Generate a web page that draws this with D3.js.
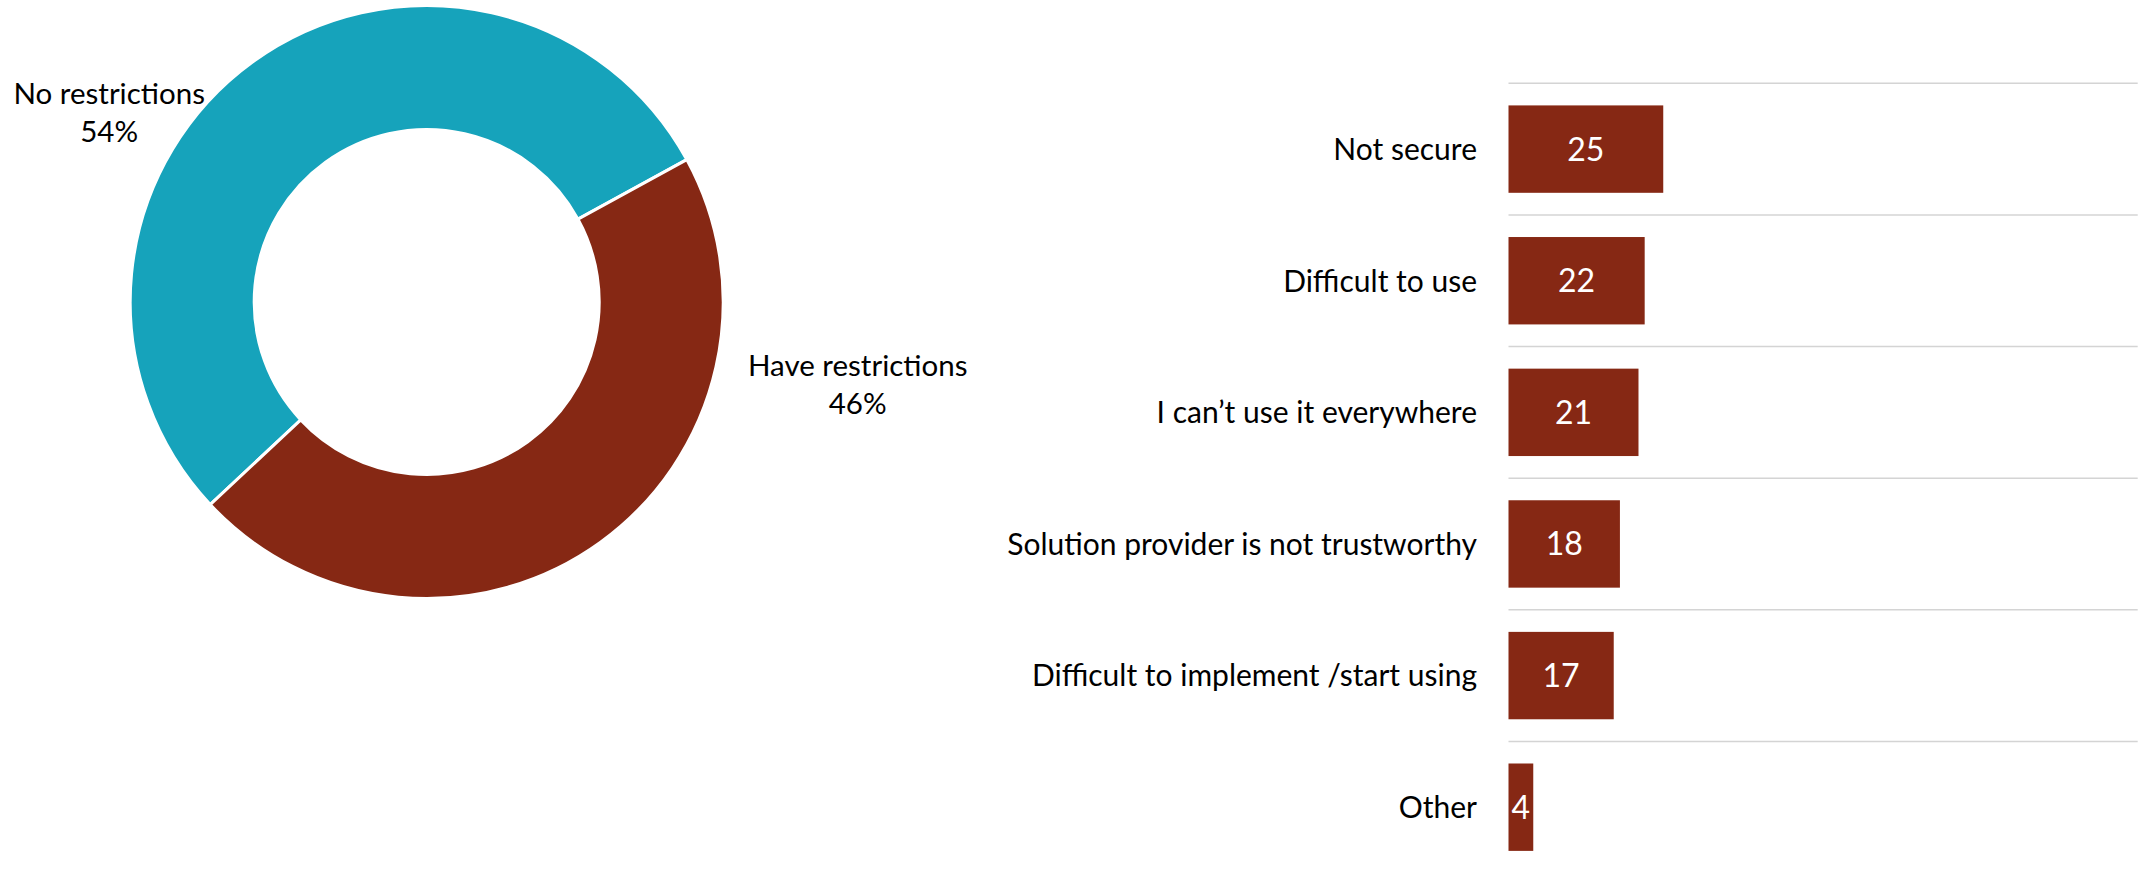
<!DOCTYPE html>
<html><head><meta charset="utf-8">
<script src="https://cdn.jsdelivr.net/npm/d3@7"></script>
<style>body{margin:0;background:#fff} svg{display:block}</style>
</head><body>
<svg id="chart" width="2141" height="872"></svg>
<script>
// ---- data ----
const pieLabels = ["No restrictions", "Have restrictions"];
const pieValues = [54, 46];
const barCategories = ["Not secure", "Difficult to use", "I can\u2019t use it everywhere",
  "Solution provider is not trustworthy", "Difficult to implement /start using", "Other"];
const barValues = [25, 22, 21, 18, 17, 4];

// ---- styles ----
const teal = "#16A3BB", brown = "#862814";
const font = "Lato, 'Open Sans', sans-serif";
const svg = d3.select("#chart");

// ---- donut ----
const cx = 426.7, cy = 302, R = 296.5, r = 172.5;
const start = 226.9 * Math.PI / 180;
const pie = d3.pie().sort(null).startAngle(start).endAngle(start + 2 * Math.PI);
const arc = d3.arc().innerRadius(r).outerRadius(R);
const g = svg.append("g").attr("transform", `translate(${cx},${cy})`);
g.selectAll("path").data(pie(pieValues)).join("path")
  .attr("d", arc)
  .attr("fill", (d, i) => i === 0 ? teal : brown)
  .attr("stroke", "#fff").attr("stroke-width", 3).attr("stroke-linejoin", "miter");

const pieLabelPos = [[-317.5, -198], [431, 74]];
pieLabels.forEach((lab, i) => {
  const t = g.append("text").attr("text-anchor", "middle")
    .attr("font-family", font).attr("font-size", 29.5).attr("fill", "#000")
    .attr("x", pieLabelPos[i][0]).attr("y", pieLabelPos[i][1]);
  t.append("tspan").attr("x", pieLabelPos[i][0]).text(lab);
  t.append("tspan").attr("x", pieLabelPos[i][0]).attr("dy", 38).text(pieValues[i] + "%");
});

// ---- bars ----
const x = d3.scaleLinear().domain([0, 100]).range([1508.5, 2127.5]);
const y = d3.scaleBand().domain(barCategories).range([83.3, 873]).paddingInner(0).paddingOuter(0);
const barH = y.bandwidth() * 0.664;
const gridRight = 2137.7;

svg.append("g").selectAll("line").data(barCategories).join("line")
  .attr("x1", x(0)).attr("x2", gridRight)
  .attr("y1", d => y(d)).attr("y2", d => y(d))
  .attr("stroke", "#d4d4d4").attr("stroke-width", 1.5);

const bars = svg.append("g");
bars.selectAll("rect").data(barValues).join("rect")
  .attr("x", x(0))
  .attr("y", (d, i) => y(barCategories[i]) + (y.bandwidth() - barH) / 2)
  .attr("width", d => x(d) - x(0))
  .attr("height", barH)
  .attr("fill", brown);

bars.selectAll("text.val").data(barValues).join("text").attr("class", "val")
  .attr("x", d => (x(d) + x(0)) / 2)
  .attr("y", (d, i) => y(barCategories[i]) + y.bandwidth() / 2)
  .attr("dy", "0.36em")
  .attr("text-anchor", "middle")
  .attr("font-family", font).attr("font-size", 32).attr("fill", "#fff")
  .text(d => d);

svg.append("g").selectAll("text").data(barCategories).join("text")
  .attr("x", 1477)
  .attr("y", d => y(d) + y.bandwidth() / 2)
  .attr("dy", "0.36em")
  .attr("text-anchor", "end")
  .attr("font-family", font).attr("font-size", 30).attr("fill", "#000")
  .text(d => d);
</script>
</body></html>
